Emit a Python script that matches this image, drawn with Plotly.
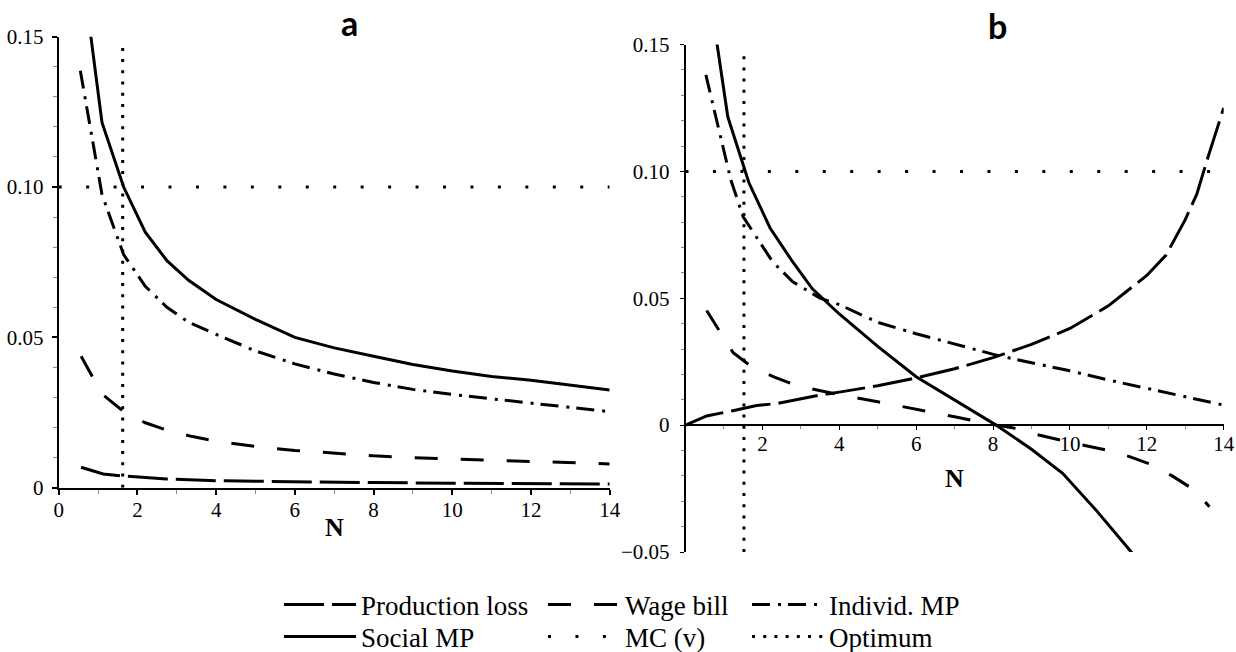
import plotly.graph_objects as go

# ---------------- Panel a data ----------------
a_soc_N = [0.55, 1.1, 1.65, 2.2, 2.75, 3.3, 4, 5, 6, 7, 8, 9, 10, 11, 12, 13, 14]
a_soc = [0.177, 0.1215, 0.100, 0.0850, 0.0755, 0.0690, 0.0626, 0.0560, 0.0500, 0.0465,
         0.0437, 0.0410, 0.0388, 0.0370, 0.0357, 0.0340, 0.0325]
a_ind_N = [0.55, 1.1, 1.65, 2.2, 2.75, 3.3, 4, 5, 6, 7, 8, 9, 10, 11, 12, 13, 14]
a_ind = [0.1387, 0.0975, 0.0775, 0.0670, 0.0600, 0.0550, 0.0510, 0.0455, 0.0412, 0.0378,
         0.0350, 0.0327, 0.0310, 0.0295, 0.0281, 0.0267, 0.0253]
a_wage_N = [0.57, 1.1, 1.65, 2.2, 2.8, 3.4, 4, 5, 6, 7, 8, 9, 10, 11, 12, 13, 14]
a_wage = [0.0437, 0.0312, 0.0253, 0.0216, 0.0189, 0.0170, 0.0155, 0.0137, 0.0124, 0.0114,
          0.0106, 0.0100, 0.0096, 0.0091, 0.0087, 0.0083, 0.0079]
a_prod_N = [0.567, 1.13, 1.64, 2.2, 2.74, 4, 5, 6, 8, 10, 12, 14]
a_prod = [0.0068, 0.00455, 0.0039, 0.0033, 0.0029, 0.0023, 0.0021, 0.0019, 0.0017, 0.0015,
          0.0013, 0.0012]
a_mc_N = [0, 14]
a_mc = [0.10, 0.10]
a_opt_N = [1.626, 1.626]
a_opt = [0.0, 0.1478]

# ---------------- Panel b data ----------------
b_soc_N = [0.55, 1.1, 1.65, 2.2, 2.79, 3.3, 4, 5, 6, 7, 8.08, 9, 9.81, 10.68, 11.59, 12.1]
b_soc = [0.178, 0.1215, 0.0955, 0.0777, 0.0643, 0.0537, 0.0438, 0.0310, 0.0191, 0.0100,
         0.0, -0.0095, -0.019, -0.0335, -0.0499, -0.060]
b_ind_N = [0.53, 1.18, 1.5, 2.27, 2.79, 3.5, 4, 5, 6, 7, 8.08, 9, 10, 11, 12, 13, 14]
b_ind = [0.138, 0.0966, 0.0821, 0.0643, 0.0565, 0.0500, 0.0475, 0.0405, 0.0360, 0.0320,
         0.0276, 0.0246, 0.0214, 0.0178, 0.0145, 0.0112, 0.0079]
b_wage_N = [0.55, 1.24, 1.72, 2.33, 2.93, 4, 5, 6, 7, 8, 8.5, 9, 10, 11, 11.55, 12.15,
            12.67, 13.24, 13.63]
b_wage = [0.0452, 0.0285, 0.0230, 0.0188, 0.0154, 0.0120, 0.0092, 0.0064, 0.0033, 0.0002,
          -0.0010, -0.0032, -0.0068, -0.0100, -0.0124, -0.0157, -0.0201, -0.0256, -0.0322]
b_prod_N = [0, 0.55, 1.2, 1.85, 2.41, 3, 3.45, 4, 5, 6, 7, 8, 9, 10, 11, 12, 12.5, 13,
            13.3, 13.6, 14]
b_prod = [0, 0.0036, 0.0056, 0.0077, 0.0086, 0.0105, 0.0117, 0.0130, 0.0155, 0.0186, 0.0222,
          0.0266, 0.0318, 0.0381, 0.047, 0.059, 0.067, 0.081, 0.091, 0.106, 0.125]
b_mc_N = [0, 14]
b_mc = [0.10, 0.10]
b_opt_N = [1.52, 1.52]
b_opt = [-0.05, 0.1478]

# ---------------- ticks / labels ----------------
a_xticks = [0, 2, 4, 6, 8, 10, 12, 14]
a_xlabels = ["0", "2", "4", "6", "8", "10", "12", "14"]
a_yticks = [0, 0.05, 0.10, 0.15]
a_ylabels = ["0", "0.05", "0.10", "0.15"]
b_xticks = [2, 4, 6, 8, 10, 12, 14]
b_xlabels = ["2", "4", "6", "8", "10", "12", "14"]
b_yticks = [-0.05, 0, 0.05, 0.10, 0.15]
b_ylabels = ["\u22120.05", "0", "0.05", "0.10", "0.15"]

names = ["Production loss", "Wage bill", "Individ. MP", "Social MP", "MC (v)", "Optimum"]

W, H = 1236, 652
SERIF = "Liberation Serif"

styles = {
    "Production loss": dict(color="black", width=3, dash="40px,8px"),
    "Wage bill": dict(color="black", width=3, dash="23px,23px"),
    "Individ. MP": dict(color="black", width=3, dash="18px,8px,3px,7px"),
    "Social MP": dict(color="black", width=3),
    "MC (v)": dict(color="black", width=3, dash="3px,24.45px"),
    "Optimum": dict(color="black", width=3, dash="3px,8.2px"),
}
legend_of = {"Production loss": "legend", "Wage bill": "legend", "Individ. MP": "legend",
             "Social MP": "legend2", "MC (v)": "legend2", "Optimum": "legend2"}
legwidth = {"Production loss": 177, "Wage bill": 117, "Individ. MP": 140,
            "Social MP": 177, "MC (v)": 117, "Optimum": 140}

panel_a = {"Production loss": (a_prod_N, a_prod), "Wage bill": (a_wage_N, a_wage),
           "Individ. MP": (a_ind_N, a_ind), "Social MP": (a_soc_N, a_soc),
           "MC (v)": (a_mc_N, a_mc), "Optimum": (a_opt_N, a_opt)}
panel_b = {"Production loss": (b_prod_N, b_prod), "Wage bill": (b_wage_N, b_wage),
           "Individ. MP": (b_ind_N, b_ind), "Social MP": (b_soc_N, b_soc),
           "MC (v)": (b_mc_N, b_mc), "Optimum": (b_opt_N, b_opt)}

fig = go.Figure()
for nm in names:
    xs, ys = panel_a[nm]
    fig.add_trace(go.Scatter(x=xs, y=ys, mode="lines", name=nm, line=styles[nm],
                             xaxis="x", yaxis="y", legend=legend_of[nm],
                             legendwidth=legwidth[nm], legendgroup=nm, showlegend=True,
                             hoverinfo="skip"))
for nm in names:
    xs, ys = panel_b[nm]
    fig.add_trace(go.Scatter(x=xs, y=ys, mode="lines", name=nm, line=styles[nm],
                             xaxis="x2", yaxis="y2", legendgroup=nm, showlegend=False,
                             hoverinfo="skip"))


def px_x(p):
    return p / W


def px_y(p):
    return (H - p) / H


tickfont = dict(family=SERIF, size=21, color="black")
common = dict(showgrid=False, zeroline=False, showline=True, linecolor="black",
              ticks="outside", tickcolor="black", tickfont=tickfont, fixedrange=True,
              ticklabeloverflow="allow")
legfont = dict(family=SERIF, size=27, color="black")

fig.update_layout(
    width=W, height=H,
    margin=dict(l=0, r=0, t=0, b=0, autoexpand=False),
    paper_bgcolor="white", plot_bgcolor="white",
    template="none",
    xaxis=dict(domain=[px_x(58.7), px_x(609.7)], range=[0, 14], anchor="y",
               tickmode="array", tickvals=a_xticks, ticktext=a_xlabels,
               linewidth=2, ticklen=5, tickwidth=1.5, ticklabelstandoff=-3,
               minor=dict(tickmode="linear", tick0=0, dtick=1, ticks="outside",
                          ticklen=4, tickcolor="#888", tickwidth=1),
               **common),
    yaxis=dict(domain=[px_y(487.7), px_y(36.7)], range=[0, 0.15], anchor="x",
               tickmode="array", tickvals=a_yticks, ticktext=a_ylabels,
               linewidth=2, ticklen=5, tickwidth=1.5, ticklabelstandoff=4,
               minor=dict(tickmode="linear", tick0=0, dtick=0.01, ticks="outside",
                          ticklen=4, tickcolor="#888", tickwidth=1),
               **common),
    xaxis2=dict(domain=[px_x(685.5), px_x(1223.7)], range=[0, 14], anchor="free",
                position=px_y(425.1), layer="below traces",
                tickmode="array", tickvals=b_xticks, ticktext=b_xlabels,
                linewidth=1.5, ticklen=4, tickwidth=1.2, ticklabelstandoff=-4,
                minor=dict(tickmode="linear", tick0=0, dtick=1, ticks="outside",
                           ticklen=3, tickcolor="#888", tickwidth=1),
                **common),
    yaxis2=dict(domain=[px_y(552), px_y(44.5)], range=[-0.05, 0.15], anchor="x2",
                tickmode="array", tickvals=b_yticks, ticktext=b_ylabels,
                linewidth=1.5, ticklen=4, tickwidth=1.2, ticklabelstandoff=6,
                minor=dict(tickmode="linear", tick0=0, dtick=0.01, ticks="outside",
                           ticklen=3, tickcolor="#888", tickwidth=1),
                **common),
    legend=dict(orientation="h", x=px_x(279), xanchor="left", y=px_y(605), yanchor="middle",
                font=legfont, itemwidth=72,
                bgcolor="rgba(0,0,0,0)", tracegroupgap=0, traceorder="normal"),
    legend2=dict(orientation="h", x=px_x(279), xanchor="left", y=px_y(637), yanchor="middle",
                 font=legfont, itemwidth=72,
                 bgcolor="rgba(0,0,0,0)", tracegroupgap=0, traceorder="normal"),
    annotations=[
        dict(text="<b>a</b>", x=px_x(349), y=px_y(22.5), xref="paper", yref="paper",
             showarrow=False, font=dict(family="Lato", size=34, color="black"),
             xanchor="center", yanchor="middle"),
        dict(text="<b>b</b>", x=px_x(997), y=px_y(25.5), xref="paper", yref="paper",
             showarrow=False, font=dict(family="Lato", size=34, color="black"),
             xanchor="center", yanchor="middle"),
        dict(text="<b>N</b>", x=7, y=px_y(527), xref="x", yref="paper",
             showarrow=False, font=dict(family=SERIF, size=26, color="black"),
             xanchor="center", yanchor="middle"),
        dict(text="<b>N</b>", x=7, y=px_y(478), xref="x2", yref="paper",
             showarrow=False, font=dict(family=SERIF, size=26, color="black"),
             xanchor="center", yanchor="middle"),
    ],
)

fig.write_html("out.html", config={"displayModeBar": False},
               post_script="document.body.style.margin='0';document.body.style.padding='0';")
